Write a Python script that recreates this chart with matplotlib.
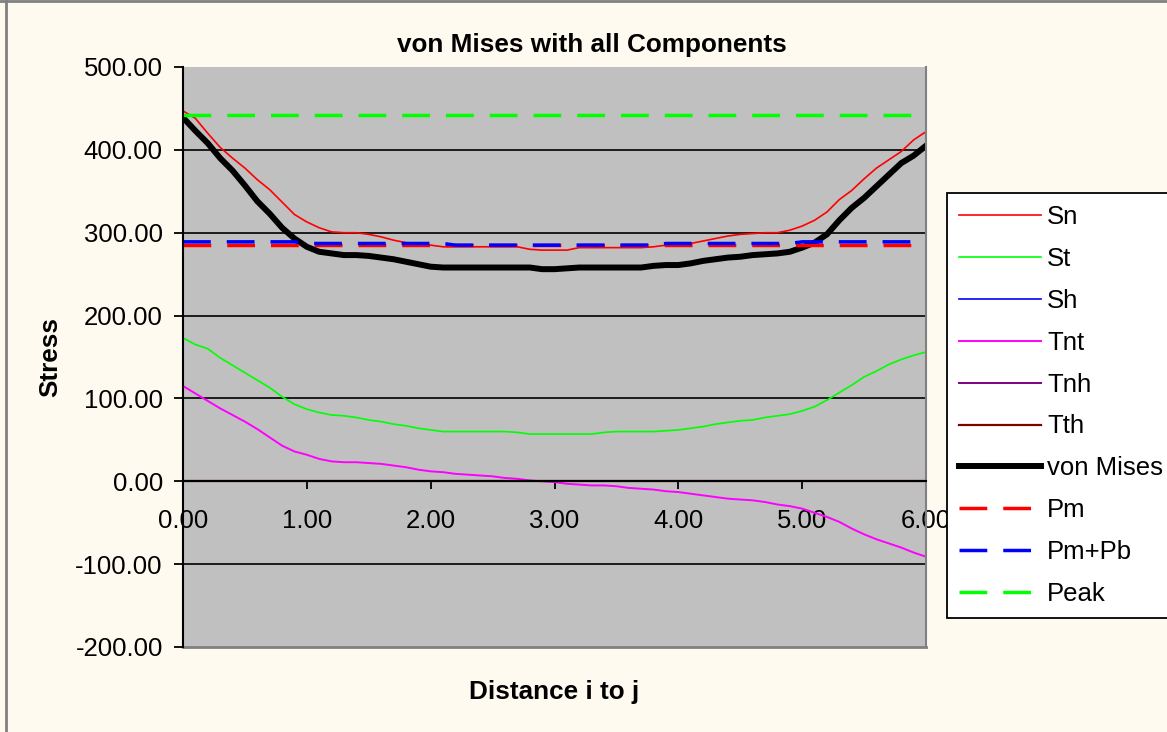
import matplotlib
matplotlib.use("Agg")
import matplotlib.pyplot as plt
from matplotlib.lines import Line2D

plt.rcParams['font.family'] = ['Liberation Sans', 'DejaVu Sans']

distance = [round(i * 0.1, 1) for i in range(61)]

sn = [447, 438, 420, 403, 390, 378, 364, 352, 337, 322,
      313, 306, 301, 300, 300, 298, 295, 291, 288, 286,
      285, 283, 283, 283, 283, 283, 283, 283, 280, 279,
      279, 279, 282, 282, 282, 282, 282, 282, 283, 285,
      285, 287, 290, 293, 296, 298, 299, 300, 300, 303,
      308, 315, 325, 340, 351, 365, 378, 388, 398, 412, 422]

st = [173, 165, 160, 149, 140, 131, 122, 113, 102, 93,
      87, 83, 80, 79, 77, 74, 72, 69, 67, 64,
      62, 60, 60, 60, 60, 60, 60, 59, 57, 57,
      57, 57, 57, 57, 59, 60, 60, 60, 60, 61,
      62, 64, 66, 69, 71, 73, 74, 77, 79, 81,
      85, 90, 98, 107, 116, 126, 133, 141, 147, 152, 156]

sh = [0] * 61

tnt = [115, 106, 97, 88, 80, 72, 63, 53, 43, 36,
       32, 27, 24, 23, 23, 22, 21, 19, 17, 14,
       12, 11, 9, 8, 7, 6, 4, 3, 1, 0,
       -1, -3, -4, -5, -5, -6, -8, -9, -10, -12,
       -13, -15, -17, -19, -21, -22, -23, -25, -28, -30,
       -33, -38, -43, -49, -57, -64, -70, -75, -80, -86, -91]

tnh = [0] * 61
tth = [0] * 61

von_mises = [439, 423, 408, 390, 375, 357, 338, 323, 306, 293,
             283, 277, 275, 273, 273, 272, 270, 268, 265, 262,
             259, 258, 258, 258, 258, 258, 258, 258, 258, 256,
             256, 257, 258, 258, 258, 258, 258, 258, 260, 261,
             261, 263, 266, 268, 270, 271, 273, 274, 275, 277,
             282, 288, 298, 315, 330, 342, 356, 370, 384, 393, 405]

pm = [285] * 61
pm_pb = ([289] * 10 + [287] * 12 + [285] * 17 + [287] * 11 + [289] * 11)
peak = [442] * 61

y_ticks = [500, 400, 300, 200, 100, 0, -100, -200]
x_ticks = [0, 1, 2, 3, 4, 5, 6]

W, H = 1167, 732
fig = plt.figure(figsize=(W / 100, H / 100), dpi=100)
fig.patch.set_facecolor('#FFFAF0')

ax = fig.add_axes([183 / W, 1 - 647 / H, (926 - 183) / W, (647 - 67) / H])
ax.set_facecolor('#C0C0C0')

ax.plot(distance, sn, color='#FF0000', lw=1.2, label='Sn')
ax.plot(distance, st, color='#00FF00', lw=1.2, label='St')
ax.plot(distance, sh, color='#0000FF', lw=1.2, label='Sh')
ax.plot(distance, tnt, color='#FF00FF', lw=1.4, label='Tnt')
ax.plot(distance, tnh, color='#800080', lw=1.4, label='Tnh')
ax.plot(distance, tth, color='#800000', lw=1.6, label='Tth')
ax.plot(distance, von_mises, color='black', lw=4.3, label='von Mises', solid_joinstyle='round')
ax.plot(distance, pm, color='#FF0000', lw=2.5, dashes=(8.0, 4.6), label='Pm')
ax.plot(distance, pm_pb, color='#0000FF', lw=2.5, dashes=(8.0, 4.6), label='Pm+Pb')
ax.plot(distance, peak, color='#00FF00', lw=2.5, dashes=(8.0, 4.6), label='Peak')

ax.set_xlim(0, 6)
ax.set_ylim(-200, 500)
ax.set_yticks(y_ticks)
ax.set_xticks(x_ticks)
ax.set_yticklabels([f"{v:.2f}" for v in y_ticks])
ax.set_xticklabels([f"{v:.2f}" for v in x_ticks])

ax.yaxis.grid(True, color='black', lw=1.2)
ax.set_axisbelow(True)
for tick_val, gl in zip(ax.get_yticks(), ax.yaxis.get_gridlines()):
    if tick_val in (500, -200):
        gl.set_visible(False)

ax.spines['top'].set_visible(False)
ax.spines['right'].set_color('#808080')
ax.spines['right'].set_linewidth(1.5)
ax.spines['left'].set_color('black')
ax.spines['left'].set_linewidth(1.5)
ax.spines['bottom'].set_position(('data', 0))
ax.spines['bottom'].set_color('black')
ax.spines['bottom'].set_linewidth(1.5)
ax.add_line(Line2D([0, 1], [0, 0], transform=ax.transAxes, color='#808080', lw=2, clip_on=False))

ax.tick_params(axis='y', direction='out', length=6.5, width=1.3, pad=8, labelsize=18.5, colors='black')
ax.tick_params(axis='x', direction='out', length=6, width=1.3, pad=14, labelsize=18.5, colors='black')

fig.text(592 / W, 1 - 45 / H, 'von Mises with all Components', ha='center', va='center',
         fontsize=18.8, fontweight='bold')
fig.text(554 / W, 1 - 692 / H, 'Distance i to j', ha='center', va='center',
         fontsize=18.8, fontweight='bold')
fig.text(50 / W, 1 - 357 / H, 'Stress', ha='center', va='center', rotation=90,
         fontsize=18.8, fontweight='bold')

leg = ax.legend(loc='upper left', bbox_to_anchor=(947 / W, 1 - 193 / H),
                bbox_transform=fig.transFigure, fontsize=18.5, frameon=True,
                fancybox=False, framealpha=1, edgecolor='black', facecolor='white',
                handlelength=3.2, handletextpad=0.25, labelspacing=0.7,
                borderpad=0.45, borderaxespad=0)
leg.get_frame().set_linewidth(1.3)

fig.add_artist(Line2D([5.5 / W, 5.5 / W], [0, 1], transform=fig.transFigure, color='#808080', lw=2))
fig.add_artist(Line2D([0, 1], [1 - 1 / H, 1 - 1 / H], transform=fig.transFigure, color='#808080', lw=2))

fig.savefig('out.png', dpi=100, facecolor=fig.get_facecolor())
